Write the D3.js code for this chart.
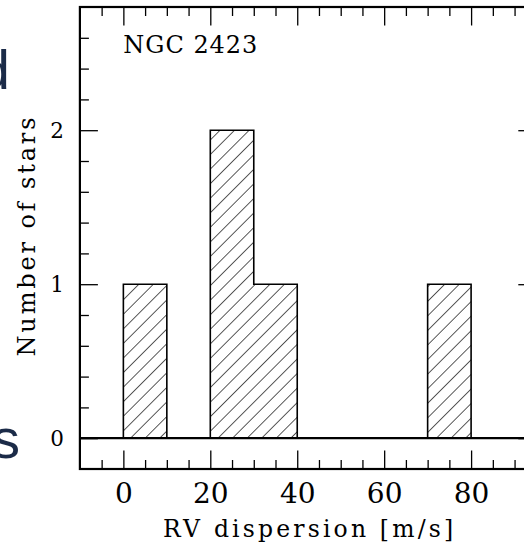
<!DOCTYPE html>
<html lang="en">
<head>
<meta charset="utf-8">
<title>NGC 2423 RV dispersion</title>
<script src="https://d3js.org/d3.v7.min.js"></script>
<style type="text/css">
body { margin: 0; background: #fff; }
svg  { display: block; }
.lbl { font-family: "DejaVu Serif", serif; fill: #000; }
.edge { font-family: "Liberation Sans", Arial, sans-serif; fill: #1b2b48; }
</style>
</head>
<body>
<script type="text/javascript">

// histogram bins (left edges, width 10 m/s) and star counts
var binStart = [0, 10, 20, 30, 40, 50, 60, 70, 80, 90];
var counts   = [1, 0, 2, 1, 0, 0, 0, 1, 0, 0];

var xTicks = [0, 20, 40, 60, 80];
var yTicks = [0, 1, 2];
var xMinor = [-5, 5, 10, 15, 25, 30, 35, 45, 50, 55, 65, 70, 75, 85, 90];
var yMinor = [0.2, 0.4, 0.6, 0.8, 1.2, 1.4, 1.6, 1.8, 2.2, 2.4, 2.6];

var W = 524, H = 546;

var svg = d3.select("body")
            .append("svg")
            .attr("width", W)
            .attr("height", H);

var x = d3.scaleLinear().domain([-10, 95]).range([79.9, 536.3]);
var y = d3.scaleLinear().domain([-0.2, 2.8]).range([469, 7]);

// diagonal hatching
var defs = svg.append("defs");
defs.append("pattern")
    .attr("id", "hatch")
    .attr("patternUnits", "userSpaceOnUse")
    .attr("width", 10.3)
    .attr("height", 10.3)
    .attr("patternTransform", "rotate(45)")
  .append("line")
    .attr("x1", 0).attr("y1", 0)
    .attr("x2", 0).attr("y2", 10.3)
    .attr("stroke", "#000")
    .attr("stroke-width", 1.3);

// step outline points: bin left edge + count, closed at the right limit
var pts = [[-10, 0]];
binStart.forEach(function(b, i) { pts.push([b, counts[i]]); });
pts.push([95, 0]);

var area = d3.area()
    .x(function(d) { return x(d[0]); })
    .y0(y(0))
    .y1(function(d) { return y(d[1]); })
    .curve(d3.curveStepAfter);

var line = d3.line()
    .x(function(d) { return x(d[0]); })
    .y(function(d) { return y(d[1]); })
    .curve(d3.curveStepAfter);

svg.append("path")
    .attr("d", area(pts))
    .attr("fill", "url(#hatch)");

svg.append("path")
    .attr("d", line(pts))
    .attr("fill", "none")
    .attr("stroke", "#000")
    .attr("stroke-width", 1.6);

// zero line
svg.append("line")
    .attr("x1", x(-10)).attr("x2", x(95))
    .attr("y1", y(0)).attr("y2", y(0))
    .attr("stroke", "#000")
    .attr("stroke-width", 2.2);

// axes: ticks pointing inward on all four sides
function styleAxis(g) {
    g.select(".domain").remove();
    g.selectAll(".tick line").attr("stroke", "#000").attr("stroke-width", 1.3);
}

var axB = svg.append("g").attr("transform", "translate(0," + y(-0.2) + ")");
axB.call(d3.axisBottom(x).tickValues(xTicks).tickSizeInner(-18.5).tickSizeOuter(0).tickPadding(14))
   .call(styleAxis);
axB.selectAll("text").attr("class", "lbl").attr("font-size", 28).attr("fill", "#000");
axB.append("g")
   .call(d3.axisBottom(x).tickValues(xMinor).tickSize(-9).tickFormat(""))
   .call(styleAxis);

var axT = svg.append("g").attr("transform", "translate(0," + y(2.8) + ")");
axT.call(d3.axisTop(x).tickValues(xTicks).tickSize(-18.5).tickFormat(""))
   .call(styleAxis);
axT.append("g")
   .call(d3.axisTop(x).tickValues(xMinor).tickSize(-9).tickFormat(""))
   .call(styleAxis);

var axL = svg.append("g").attr("transform", "translate(" + x(-10) + ",0)");
axL.call(d3.axisLeft(y).tickValues(yTicks).tickFormat(d3.format("d"))
              .tickSizeInner(-18).tickSizeOuter(0).tickPadding(16))
   .call(styleAxis);
axL.selectAll("text").attr("class", "lbl").attr("font-size", 21.5).attr("fill", "#000");
axL.append("g")
   .call(d3.axisLeft(y).tickValues(yMinor).tickSize(-9).tickFormat(""))
   .call(styleAxis);

var axR = svg.append("g").attr("transform", "translate(" + x(95) + ",0)");
axR.call(d3.axisRight(y).tickValues(yTicks).tickSize(-18).tickFormat(""))
   .call(styleAxis);
axR.append("g")
   .call(d3.axisRight(y).tickValues(yMinor).tickSize(-9).tickFormat(""))
   .call(styleAxis);

// frame
svg.append("rect")
    .attr("x", x(-10)).attr("y", y(2.8))
    .attr("width", x(95) - x(-10))
    .attr("height", y(-0.2) - y(2.8))
    .attr("fill", "none")
    .attr("stroke", "#000")
    .attr("stroke-width", 2.2);

// labels, spaced out like the plotting font
svg.append("text")
    .attr("class", "lbl")
    .attr("x", x(0)).attr("y", 53)
    .attr("font-size", 24)
    .attr("textLength", 134)
    .attr("lengthAdjust", "spacing")
    .text("NGC 2423");

svg.append("text")
    .attr("class", "lbl")
    .attr("x", (x(-10) + x(95)) / 2).attr("y", 537)
    .attr("text-anchor", "middle")
    .attr("font-size", 23.5)
    .attr("textLength", 290)
    .attr("lengthAdjust", "spacing")
    .text("RV dispersion [m/s]");

svg.append("text")
    .attr("class", "lbl")
    .attr("transform", "translate(35,237) rotate(-90)")
    .attr("text-anchor", "middle")
    .attr("font-size", 24)
    .attr("textLength", 239)
    .attr("lengthAdjust", "spacing")
    .text("Number of stars");

// lettering running off the left edge
svg.append("text").attr("class", "edge")
    .attr("x", 10).attr("y", 89)
    .attr("text-anchor", "end")
    .attr("font-size", 56)
    .text("d");
svg.append("text").attr("class", "edge")
    .attr("x", 20).attr("y", 458)
    .attr("text-anchor", "end")
    .attr("font-size", 56)
    .text("s");

</script>
</body>
</html>
